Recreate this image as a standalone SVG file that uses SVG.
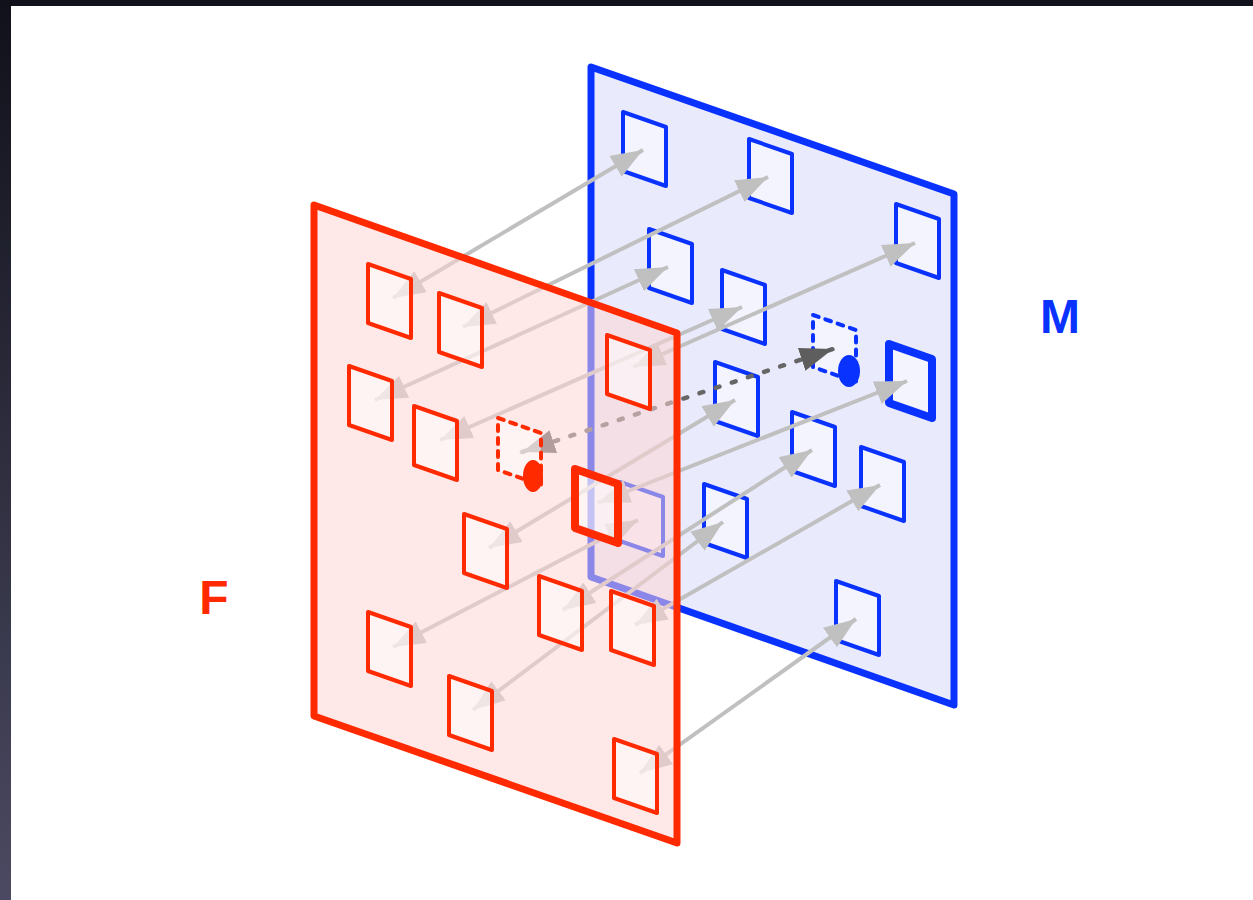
<svg xmlns="http://www.w3.org/2000/svg" width="1253" height="900" viewBox="0 0 1253 900">
<defs>
<linearGradient id="bg" x1="0" y1="0" x2="0" y2="1">
<stop offset="0" stop-color="#10111a"/>
<stop offset="1" stop-color="#4b4a62"/>
</linearGradient>
<marker id="ah" markerUnits="userSpaceOnUse" markerWidth="34" markerHeight="26" refX="32" refY="12" orient="auto-start-reverse" viewBox="0 0 34 26">
<path d="M0,0 L32,12 L0,24 Z" fill="#c0c0c0"/>
</marker>
<marker id="dh" markerUnits="userSpaceOnUse" markerWidth="36" markerHeight="26" refX="33" refY="12" orient="auto-start-reverse" viewBox="0 0 36 26">
<path d="M0,0 L33,12 L0,24 Z" fill="#5e5e5e"/>
</marker>
<path id="sq" d="M0,0 l43,15 v59 l-43,-15 z"/>
<path id="sqd" d="M0,0 l43,15 v52 l-43,-15 z"/>
</defs>
<style>
.plane{stroke-width:7;stroke-linejoin:round}
.bs{fill:#f4f4fe;stroke:#0a32ff;stroke-width:4;stroke-linejoin:round}
.rs{fill:#ffffff;fill-opacity:0.5;stroke:#ff2a00;stroke-width:4;stroke-linejoin:round}
.thick{stroke-width:8}
.dash{stroke-dasharray:6 7;stroke-linecap:round}
.arr{fill:none;stroke:#c0c0c0;stroke-width:4;marker-start:url(#ah);marker-end:url(#ah)}
.darr{fill:none;stroke:#666;stroke-width:4.5;stroke-dasharray:4 13;stroke-linecap:round;marker-start:url(#dh);marker-end:url(#dh)}
.lbl{font-family:"Liberation Sans",Arial,sans-serif;font-weight:bold;font-size:48px;text-anchor:middle}
</style>
<rect x="0" y="0" width="1253" height="900" fill="url(#bg)"/>
<rect x="11" y="6" width="1242" height="894" fill="#ffffff"/>

<g id="plane-M">
<path class="plane" d="M591,67 L954,194 L954,705 L591,577 Z" fill="#e9ebfd" stroke="#0a32ff"/>
</g>
<g id="M-squares">
<g id="b1"><use href="#sq" class="bs" transform="translate(623,112)"/></g>
<g id="b2"><use href="#sq" class="bs" transform="translate(749,139)"/></g>
<g id="b3"><use href="#sq" class="bs" transform="translate(896,204)"/></g>
<g id="b4"><use href="#sq" class="bs" transform="translate(649,229)"/></g>
<g id="b5"><use href="#sq" class="bs" transform="translate(722,270)"/></g>
<g id="b6"><use href="#sq" class="bs" transform="translate(715,362)"/></g>
<g id="b7"><use href="#sq" class="bs thick" transform="translate(889,344)"/></g>
<g id="b8"><use href="#sq" class="bs" transform="translate(792,412)"/></g>
<g id="b9"><use href="#sq" class="bs" transform="translate(861,447)"/></g>
<g id="b10"><use href="#sq" class="bs" transform="translate(704,484)"/></g>
<g id="b11"><use href="#sq" class="bs" transform="translate(836,581)"/></g>
<g id="b12"><use href="#sq" class="bs" transform="translate(620,482)"/></g>
<g id="b-dashed"><use href="#sqd" class="bs dash" transform="translate(813,315)"/>
<ellipse cx="849" cy="371" rx="11" ry="16" fill="#0a32ff"/></g>
</g>

<g id="connectors">
<line class="arr" x1="393" y1="298" x2="643" y2="150"/>
<line class="arr" x1="463" y1="327" x2="768" y2="177"/>
<line class="arr" x1="375" y1="400" x2="668" y2="267"/>
<line class="arr" x1="440" y1="440" x2="742" y2="307"/>
<line class="arr" x1="633" y1="367" x2="915" y2="243"/>
<line class="arr" x1="489" y1="548" x2="735" y2="400"/>
<line class="arr" x1="598" y1="503" x2="907" y2="381"/>
<line class="arr" x1="393" y1="647" x2="638" y2="520"/>
<line class="arr" x1="563" y1="610" x2="812" y2="450"/>
<line class="arr" x1="473" y1="710" x2="723" y2="522"/>
<line class="arr" x1="635" y1="625" x2="880" y2="485"/>
<line class="arr" x1="640" y1="773" x2="856" y2="619"/>
<line class="darr" x1="522" y1="452" x2="833" y2="349"/>
</g>

<g id="plane-F">
<path class="plane" d="M314,205 L677,333 L677,843 L314,716 Z" fill="#ffd3d3" fill-opacity="0.53" stroke="#ff2a00"/>
</g>
<g id="F-squares">
<g id="r1"><use href="#sq" class="rs" transform="translate(368,264)"/></g>
<g id="r2"><use href="#sq" class="rs" transform="translate(439,293)"/></g>
<g id="r3"><use href="#sq" class="rs" transform="translate(349,366)"/></g>
<g id="r4"><use href="#sq" class="rs" transform="translate(414,406)"/></g>
<g id="r5"><use href="#sq" class="rs" transform="translate(607,335)"/></g>
<g id="r6"><use href="#sq" class="rs thick" transform="translate(575,469)"/></g>
<g id="r7"><use href="#sq" class="rs" transform="translate(464,514)"/></g>
<g id="r8"><use href="#sq" class="rs" transform="translate(539,576)"/></g>
<g id="r9"><use href="#sq" class="rs" transform="translate(611,591)"/></g>
<g id="r10"><use href="#sq" class="rs" transform="translate(368,612)"/></g>
<g id="r11"><use href="#sq" class="rs" transform="translate(449,676)"/></g>
<g id="r12"><use href="#sq" class="rs" transform="translate(614,739)"/></g>
<g id="r-dashed"><use href="#sqd" class="rs dash" transform="translate(498,418)"/>
<ellipse cx="533" cy="476" rx="10" ry="16" fill="#ff2a00"/></g>
</g>

<g id="labels">
<text class="lbl" x="1060" y="333" fill="#0a32ff">M</text>
<text class="lbl" x="214" y="614" fill="#ff2a00">F</text>
</g>
</svg>
